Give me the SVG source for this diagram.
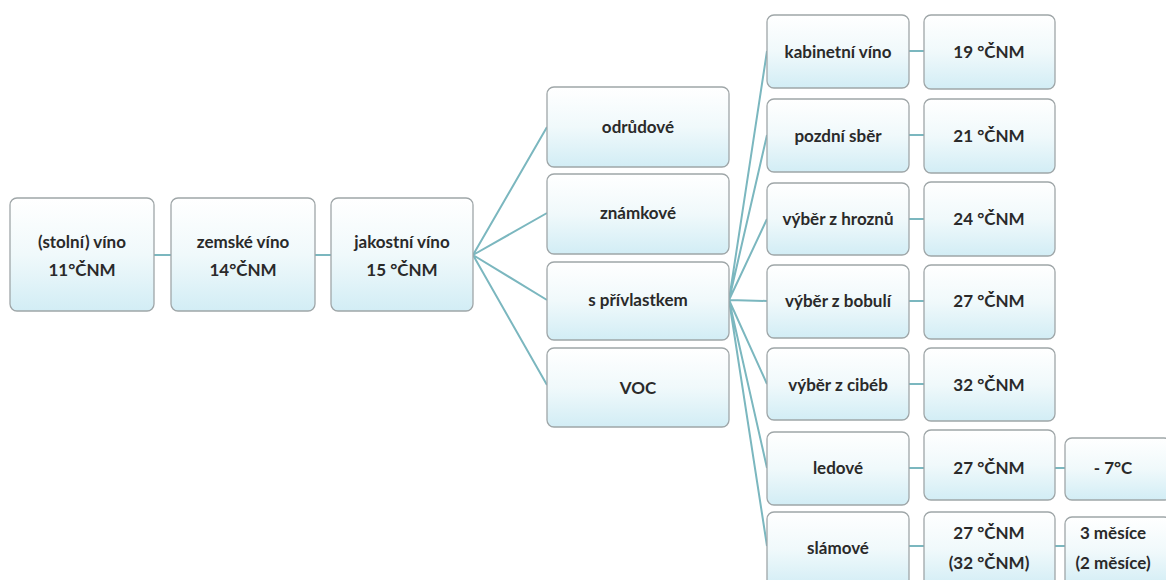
<svg xmlns="http://www.w3.org/2000/svg" width="1166" height="580" viewBox="0 0 1166 580">
<defs>
<linearGradient id="g" x1="0" y1="0" x2="0" y2="1">
<stop offset="0" stop-color="#ffffff"/>
<stop offset="0.5" stop-color="#f0f9fb"/>
<stop offset="1" stop-color="#d2edf5"/>
</linearGradient>
<style>
.box{fill:url(#g);stroke:#9fa6a8;stroke-width:1.3}
.t{font-family:Lato,"Open Sans","Liberation Sans",sans-serif;font-weight:700;font-size:17px;fill:#2a2a2a;text-anchor:middle}
.c{stroke:#7bb7bf;stroke-width:2;fill:none}
</style>
</defs>
<rect width="1166" height="580" fill="#ffffff"/>
<g id="connectors">
<line class="c" x1="154" y1="255" x2="171" y2="255"/>
<line class="c" x1="315" y1="255" x2="331" y2="255"/>
<path class="c" d="M473 255 L547 127 M473 255 L547 213 M473 255 L547 300 M473 255 L547 385"/>
<path class="c" d="M729 300 L767 51 M729 300 L767 135 M729 300 L767 219 M729 300 L767 301 M729 300 L767 384 M729 300 L767 468 M729 300 L767 546"/>
<path class="c" d="M909 51 H924 M909 135 H924 M909 219 H924 M909 301 H924 M909 384 H924 M909 468 H924 M909 546 H924"/>
<path class="c" d="M1055 468 H1065 M1055 546 H1065"/>
</g>
<g id="n-stolni"><rect class="box" x="10" y="198" width="144" height="113" rx="7"/><text class="t" x="82" y="248">(stolní) víno</text><text class="t" x="82" y="276">11°ČNM</text></g>
<g id="n-zemske"><rect class="box" x="171" y="198" width="144" height="113" rx="7"/><text class="t" x="243" y="248">zemské víno</text><text class="t" x="243" y="276">14°ČNM</text></g>
<g id="n-jakostni"><rect class="box" x="331" y="198" width="142" height="113" rx="7"/><text class="t" x="402" y="248">jakostní víno</text><text class="t" x="402" y="276">15 °ČNM</text></g>
<g id="n-odrudove"><rect class="box" x="547" y="87" width="182" height="80" rx="7"/><text class="t" x="638" y="133">odrůdové</text></g>
<g id="n-znamkove"><rect class="box" x="547" y="174" width="182" height="80" rx="7"/><text class="t" x="638" y="219">známkové</text></g>
<g id="n-privlastek"><rect class="box" x="547" y="262" width="182" height="78" rx="7"/><text class="t" x="638" y="306">s přívlastkem</text></g>
<g id="n-voc"><rect class="box" x="547" y="348" width="182" height="79" rx="7"/><text class="t" x="638" y="394">VOC</text></g>
<g id="n-kabinet"><rect class="box" x="767" y="15" width="142" height="73" rx="7"/><text class="t" x="838" y="58">kabinetní víno</text></g>
<g id="n-pozdni"><rect class="box" x="767" y="99" width="142" height="73" rx="7"/><text class="t" x="838" y="142">pozdní sběr</text></g>
<g id="n-hroznu"><rect class="box" x="767" y="183" width="142" height="72" rx="7"/><text class="t" x="838" y="225">výběr z hroznů</text></g>
<g id="n-bobuli"><rect class="box" x="767" y="265" width="142" height="73" rx="7"/><text class="t" x="838" y="307">výběr z bobulí</text></g>
<g id="n-cibeb"><rect class="box" x="767" y="348" width="142" height="72" rx="7"/><text class="t" x="838" y="391">výběr z cibéb</text></g>
<g id="n-ledove"><rect class="box" x="767" y="432" width="142" height="73" rx="7"/><text class="t" x="838" y="474">ledové</text></g>
<g id="n-slamove"><rect class="box" x="767" y="512" width="142" height="75" rx="7"/><text class="t" x="838" y="554">slámové</text></g>
<g id="n-19"><rect class="box" x="924" y="15" width="131" height="74" rx="7"/><text class="t" x="989" y="58">19 °ČNM</text></g>
<g id="n-21"><rect class="box" x="924" y="99" width="131" height="74" rx="7"/><text class="t" x="989" y="142">21 °ČNM</text></g>
<g id="n-24"><rect class="box" x="924" y="182" width="131" height="74" rx="7"/><text class="t" x="989" y="225">24 °ČNM</text></g>
<g id="n-27a"><rect class="box" x="924" y="265" width="131" height="74" rx="7"/><text class="t" x="989" y="307">27 °ČNM</text></g>
<g id="n-32"><rect class="box" x="924" y="348" width="131" height="73" rx="7"/><text class="t" x="989" y="391">32 °ČNM</text></g>
<g id="n-27b"><rect class="box" x="924" y="430" width="131" height="70" rx="7"/><text class="t" x="989" y="474">27 °ČNM</text></g>
<g id="n-27c"><rect class="box" x="924" y="512" width="131" height="75" rx="7"/><text class="t" x="989" y="539">27 °ČNM</text><text class="t" x="989" y="569">(32 °ČNM)</text></g>
<g id="n-minus7"><rect class="box" x="1065" y="438" width="106" height="62" rx="7"/><text class="t" x="1113" y="474">- 7°C</text></g>
<g id="n-mesice"><rect class="box" x="1065" y="517" width="106" height="70" rx="7"/><text class="t" x="1113" y="539">3 měsíce</text><text class="t" x="1113" y="569">(2 měsíce)</text></g>
</svg>
